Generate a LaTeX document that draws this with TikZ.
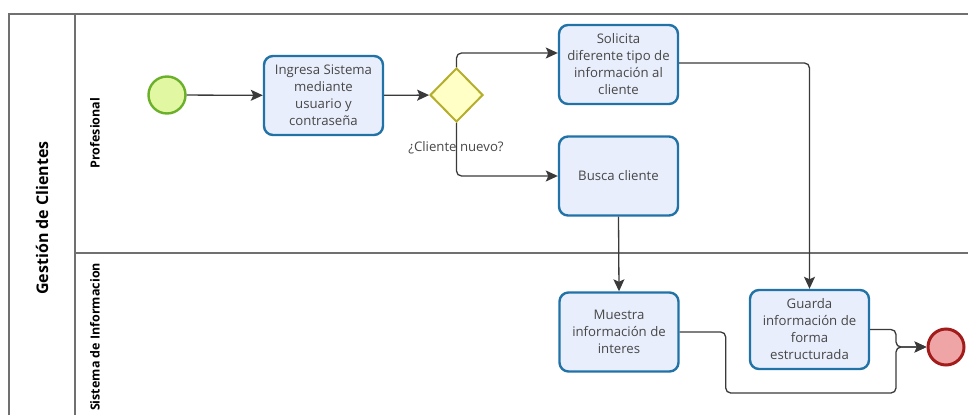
\documentclass[tikz,border=0pt]{standalone}
\usepackage{fontspec}
\setmainfont{Open Sans}
\usetikzlibrary{arrows.meta,shapes.geometric,calc}
\definecolor{taskfill}{HTML}{E9EEFC}
\definecolor{taskline}{HTML}{2172A6}
\definecolor{txt}{HTML}{474747}
\definecolor{flowline}{HTML}{3A3A3A}
\definecolor{poolline}{HTML}{707070}
\definecolor{gwfill}{HTML}{FFFFC6}
\definecolor{gwline}{HTML}{B5AE2C}
\definecolor{startfill}{HTML}{E2F7A2}
\definecolor{startline}{HTML}{6BB02A}
\definecolor{endfill}{HTML}{EFA5A5}
\definecolor{endline}{HTML}{A31C1C}
\begin{document}
\begin{tikzpicture}[x=1pt,y=-1pt,
  task/.style={draw=taskline, fill=taskfill, line width=2.4pt, rounded corners=9pt,
    minimum width=119pt, minimum height=79pt, align=center, text=txt,
    font=\fontsize{13.2}{17}\selectfont, inner sep=1pt},
  gateway/.style={draw=gwline, fill=gwfill, line width=2pt, diamond,
    minimum width=53pt, minimum height=54pt, inner sep=0pt},
  startev/.style={circle, draw=startline, fill=startfill, line width=2.4pt,
    minimum size=37pt, inner sep=0pt},
  endev/.style={circle, draw=endline, fill=endfill, line width=3pt,
    minimum size=36pt, inner sep=0pt},
  flow/.style={draw=flowline, line width=1.3pt, rounded corners=5pt,
    -{Stealth[length=12pt,width=11pt,inset=2.5pt]}},
  pool/.style={draw=poolline, line width=1.6pt},
  lanelabel/.style={rotate=90, text=black, font=\bfseries\fontsize{12.5}{14}\selectfont}
]
\useasboundingbox (0,0) rectangle (968,415);

% pool and lanes
\draw[pool] (9,415) -- (9,14) -- (968,14);
\draw[pool] (75,14) -- (75,415);
\draw[pool] (75,253) -- (968,253);
\node[rotate=90, font=\bfseries\fontsize{16}{18}\selectfont] (pooltitle) at (42,218) {Gestión de Clientes};
\node[lanelabel] (lane1) at (95,133) {Profesional};
\node[lanelabel] (lane2) at (95,337) {Sistema de Informacion};

% events, gateway and tasks
\node[startev] (start) at (167,95) {};
\node[task] (ingresa) at (323.5,95.5) {Ingresa Sistema\\mediante\\usuario y\\contraseña};
\node[gateway] (gw) at (456.5,95) {};
\node[text=txt, font=\fontsize{13.2}{15}\selectfont] (gwlabel) at (456,148) {¿Cliente nuevo?};
\node[task] (solicita) at (618.5,64.5) {Solicita\\diferente tipo de\\información al\\cliente};
\node[task] (busca) at (618.5,176) {Busca cliente};
\node[task] (muestra) at (619,332) {Muestra\\información de\\interes};
\node[task] (guarda) at (809.5,329.5) {Guarda\\información de\\forma\\estructurada};
\node[endev] (end) at (946,347) {};
\coordinate (join) at (896,347);

% sequence flows
\draw[flow] (start) -- (ingresa);
\draw[flow] (ingresa) -- (gw);
\draw[flow] (gw.north) |- ([yshift=11.5pt]solicita.west);
\draw[flow] (gw.south) |- (busca.west);
\draw[flow] ([yshift=1.5pt]solicita.east) -| (guarda.north);
\draw[flow] (busca.south) -- (muestra.north);
\draw[flow] (guarda.east) -| (join) -- (end.west);
\draw[flow] (muestra.east) -- ++(46,0) |- (896,393) -- (join) -- (end.west);
\end{tikzpicture}
\end{document}
